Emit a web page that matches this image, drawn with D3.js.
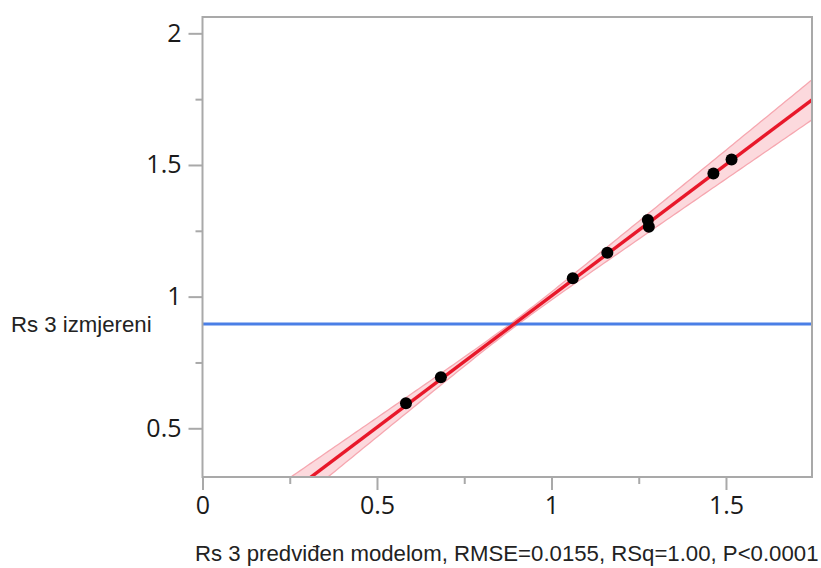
<!DOCTYPE html>
<html>
<head>
<meta charset="utf-8">
<script src="https://cdn.jsdelivr.net/npm/d3@7"></script>
<style>
html,body{margin:0;padding:0;background:#fff;}
svg{display:block;}
</style>
</head>
<body>
<svg id="chart" width="821" height="568"></svg>
<script>
// ---- data ----
const predicted = [0.583, 0.683, 1.061, 1.160, 1.276, 1.279, 1.464, 1.516];
const measured  = [0.595, 0.694, 1.070, 1.167, 1.291, 1.265, 1.468, 1.521];
const meanY = 0.896;            // horizontal mean line
const fitIntercept = 0.0046;    // fitted line
const fitSlope = 0.998;
const fitXMean = 0.893;
const bandC0 = 0.012;           // confidence band half-width at x mean
const bandC1 = 0.088;           // growth with distance from x mean
const xTicks = [0, 0.5, 1, 1.5];
const xMinorTicks = [0.25, 0.75, 1.25, 1.75];
const yTicks = [0.5, 1, 1.5, 2];
const yMinorTicks = [0.75, 1.25, 1.75];
const xDomain = [0, 1.7465];
const yDomain = [0.315, 2.062];
const xTitle = "Rs 3 predviđen modelom, RMSE=0.0155, RSq=1.00, P<0.0001";
const yTitle = "Rs 3 izmjereni";

// ---- layout ----
const L = 202.5, R = 812, T = 17, B = 477;
const svg = d3.select("#chart");
const x = d3.scaleLinear().domain(xDomain).range([L, R]);
const y = d3.scaleLinear().domain(yDomain).range([B, T]);

const defs = svg.append("defs");
defs.append("clipPath").attr("id", "plotclip")
  .append("rect").attr("x", L).attr("y", T).attr("width", R - L).attr("height", B - T);

const plot = svg.append("g").attr("clip-path", "url(#plotclip)");

// confidence band
const bandXs = d3.range(0, 1.8001, 0.01);
const half = xv => Math.sqrt(bandC0 * bandC0 + bandC1 * bandC1 * (xv - fitXMean) * (xv - fitXMean));
const fit = xv => fitIntercept + fitSlope * xv;
const area = d3.area().x(d => x(d)).y0(d => y(fit(d) - half(d))).y1(d => y(fit(d) + half(d)));
plot.append("path").datum(bandXs).attr("d", area).attr("fill", "#fcd9dd").attr("stroke", "none");
const upper = d3.line().x(d => x(d)).y(d => y(fit(d) + half(d)));
const lower = d3.line().x(d => x(d)).y(d => y(fit(d) - half(d)));
plot.append("path").datum(bandXs).attr("d", upper).attr("fill", "none").attr("stroke", "#f6a7b0").attr("stroke-width", 1.3);
plot.append("path").datum(bandXs).attr("d", lower).attr("fill", "none").attr("stroke", "#f6a7b0").attr("stroke-width", 1.3);

// mean line
plot.append("line")
  .attr("x1", x(xDomain[0])).attr("x2", x(xDomain[1]))
  .attr("y1", y(meanY)).attr("y2", y(meanY))
  .attr("stroke", "#4a7fe6").attr("stroke-width", 3);

// fitted line
plot.append("path").datum([0, 1.8])
  .attr("d", d3.line().x(d => x(d)).y(d => y(fit(d))))
  .attr("fill", "none").attr("stroke", "#e8182a").attr("stroke-width", 3.4);

// points
plot.selectAll("circle.pt").data(predicted).enter().append("circle")
  .attr("class", "pt")
  .attr("cx", d => x(d))
  .attr("cy", (d, i) => y(measured[i]))
  .attr("r", 6)
  .attr("fill", "#000");

// frame
const frameColor = "#a9a9a9";
svg.append("rect").attr("x", L).attr("y", T).attr("width", R - L).attr("height", B - T)
  .attr("fill", "none").attr("stroke", frameColor).attr("stroke-width", 2);

// axes
const xAxis = d3.axisBottom(x).tickValues(xTicks).tickFormat(d3.format("")).tickSizeInner(13).tickSizeOuter(0).tickPadding(6);
const xAxisMinor = d3.axisBottom(x).tickValues(xMinorTicks.filter(v => v <= xDomain[1])).tickFormat("").tickSizeInner(7).tickSizeOuter(0);
const yAxis = d3.axisLeft(y).tickValues(yTicks).tickFormat(d3.format("")).tickSizeInner(14).tickSizeOuter(0).tickPadding(7);
const yAxisMinor = d3.axisLeft(y).tickValues(yMinorTicks).tickFormat("").tickSizeInner(7).tickSizeOuter(0);

function styleAxis(g) {
  g.select(".domain").remove();
  g.selectAll(".tick line").attr("stroke", frameColor).attr("stroke-width", 2);
  g.selectAll(".tick text").attr("fill", "#1a1a1a")
    .style("font-family", "'Open Sans', 'Noto Sans', sans-serif").style("font-size", "25px");
}
svg.append("g").attr("transform", `translate(0,${B})`).call(xAxis).call(styleAxis);
svg.append("g").attr("transform", `translate(0,${B})`).call(xAxisMinor).call(styleAxis);
svg.append("g").attr("transform", `translate(${L},0)`).call(yAxis).call(styleAxis);
svg.append("g").attr("transform", `translate(${L},0)`).call(yAxisMinor).call(styleAxis);

// titles
svg.append("text").attr("x", 195).attr("y", 561).text(xTitle)
  .attr("fill", "#222").style("font-family", "'Liberation Sans', Arial, sans-serif").style("font-size", "22.2px");
svg.append("text").attr("x", 11).attr("y", 332).text(yTitle)
  .attr("fill", "#222").style("font-family", "'Liberation Sans', Arial, sans-serif").style("font-size", "22.2px");
</script>
</body>
</html>
